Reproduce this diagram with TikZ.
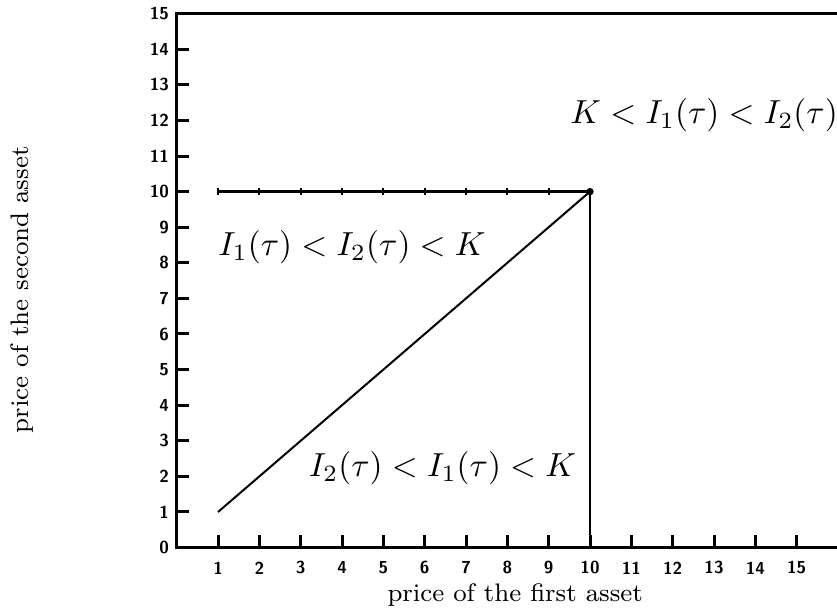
\documentclass[tikz,border=0pt]{standalone}
\begin{document}
\begin{tikzpicture}[x=12.4pt,y=10.68pt,
  axisline/.style={line width=0.9pt},
  boundline/.style={line width=0.85pt},
  thinline/.style={line width=0.6pt},
  ticklab/.style={font=\fontsize{5.2}{6}\selectfont\sffamily\bfseries, inner sep=0pt},
  axlab/.style={font=\fontsize{7.6}{9}\selectfont, inner sep=0pt},
  region/.style={font=\fontsize{10.3}{12}\selectfont, inner sep=0pt}]
\useasboundingbox (-4.275,-1.781) rectangle (15.976,15.382);
% named points
\coordinate (O) at (0,0);
\coordinate (Xend) at (15.976,0);
\coordinate (Ytop) at (0,15);
\coordinate (Tend) at (15.976,15);
\coordinate (P1) at (1,1);
\coordinate (P10) at (10,10);
\coordinate (L1) at (1,10);
\coordinate (B10) at (10,0);
% axes and frame
\draw[axisline] (Xend) -- (O) -- (Ytop) -- (Tend);
\foreach \i in {1,...,15} {
  \draw[axisline] (\i,0) -- (\i,0.34);
  \node[ticklab] at (\i,-0.57) {\i};
}
\foreach \i in {1,...,14} {
  \draw[axisline] (0,\i) -- (0.29,\i);
}
\foreach \i in {0,...,15} {
  \node[ticklab, anchor=east] at (-0.17,\i) {\i};
}
% boundary K = 10
\draw[boundline] (L1) -- (P10) -- (B10);
\foreach \i in {1,...,10} {
  \draw[line width=0.6pt] (\i,9.9) -- (\i,10.1);
}
\fill (P10) circle (1.1pt);
% diagonal
\draw[thinline] (P1) -- (P10);
% region labels
\node[region] (r1) at (4.24,8.44) {$I_1(\tau) < I_2(\tau) < K$};
\node[region] (r2) at (6.43,2.24) {$I_2(\tau) < I_1(\tau) < K$};
\node[region] (r3) at (12.76,12.15) {$K < I_1(\tau) < I_2(\tau)$};
% axis labels
\node[axlab] (xl) at (8.19,-1.33) {price of the first asset};
\node[axlab, rotate=90] (yl) at (-3.74,7.24) {price of the second asset};
\end{tikzpicture}
\end{document}
